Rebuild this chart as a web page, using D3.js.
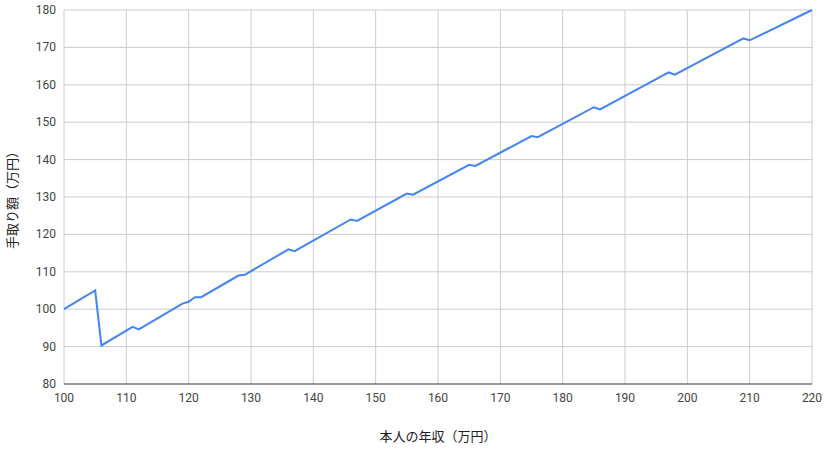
<!DOCTYPE html><html><head><meta charset="utf-8"><script src="https://cdn.jsdelivr.net/npm/d3@7"></script>
<style>body{margin:0;background:#fff}</style></head><body><svg id="c" width="827" height="451"></svg>
<script>
const income=[100,105,106,111,112,119,120,121,122,128,129,136,137,146,147,155,156,165,166,175,176,185,186,197,198,209,210,220];
const takeHome=[100,105,90.3,95.3,94.6,101.5,102,103.2,103.2,109,109.2,116,115.5,124,123.6,130.9,130.6,138.6,138.3,146.3,146,154,153.4,163.3,162.7,172.4,171.9,180];
const xTicks=d3.range(100,221,10), yTicks=d3.range(80,181,10);
const svg=d3.select("#c"), f="Roboto, Arial, sans-serif";
const x=d3.scaleLinear([100,220],[64,812]), y=d3.scaleLinear([80,180],[384,10]);
svg.append("g").selectAll("line").data(xTicks).join("line").attr("x1",d=>x(d)).attr("x2",d=>x(d)).attr("y1",10).attr("y2",384).attr("stroke","#ccc");
svg.append("g").selectAll("line").data(yTicks).join("line").attr("x1",64).attr("x2",812).attr("y1",d=>y(d)).attr("y2",d=>y(d)).attr("stroke",d=>d===80?"#333":"#ccc");
svg.append("g").selectAll("text").data(xTicks).join("text").attr("x",d=>x(d)).attr("y",402).attr("text-anchor","middle").attr("font-family",f).attr("font-size",12).attr("fill","#444").text(d=>d);
svg.append("g").selectAll("text").data(yTicks).join("text").attr("x",56).attr("y",d=>y(d)+4).attr("text-anchor","end").attr("font-family",f).attr("font-size",12).attr("fill","#444").text(d=>d);
svg.append("path").datum(income.map((v,i)=>[v,takeHome[i]])).attr("fill","none").attr("stroke","#4285f4").attr("stroke-width",2)
 .attr("d",d3.line().x(d=>x(d[0])).y(d=>y(d[1])));
svg.append("text").attr("x",438).attr("y",441).attr("text-anchor","middle").attr("font-family","Noto Sans CJK JP").attr("font-size",13).attr("fill","#222").text("本人の年収（万円）");
svg.append("text").attr("transform","translate(17,197) rotate(-90)").attr("text-anchor","middle").attr("font-family","Noto Sans CJK JP").attr("font-size",13).attr("fill","#222").text("手取り額（万円）");
</script></body></html>
